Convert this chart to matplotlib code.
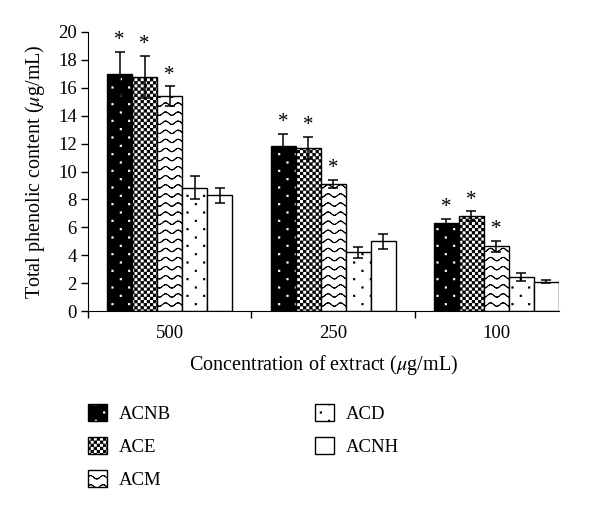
import numpy as np
import matplotlib
matplotlib.use('Agg')
import matplotlib.pyplot as plt
from matplotlib import hatch as mhatch
from matplotlib.path import Path
from matplotlib.patches import Patch

# data
concs = ['500', '250', '100']
extracts = ['ACNB', 'ACE', 'ACM', 'ACD', 'ACNH']
acnb = [17.0, 11.8, 6.3]
acnb_err = [1.6, 0.9, 0.3]
ace = [16.8, 11.7, 6.8]
ace_err = [1.5, 0.8, 0.35]
acm = [15.4, 9.1, 4.65]
acm_err = [0.7, 0.3, 0.4]
acd = [8.85, 4.2, 2.45]
acd_err = [0.85, 0.4, 0.3]
acnh = [8.3, 5.0, 2.1]
acnh_err = [0.55, 0.55, 0.12]
starred = [True, True, True, False, False]


# custom hatches: '*' waves, 'O' fine checker, 'o' sparse staggered dots
class Waves(mhatch.HatchPatternBase):
    def __init__(self, hatch, density):
        self.rows = hatch.count('*') * 11
        self.pts = 97
        self.num_vertices = self.rows * (self.pts - 1) * 2

    def set_vertices_and_codes(self, vertices, codes):
        x = np.linspace(0, 1, self.pts)
        k = 0
        for r in range(self.rows):
            y = (r + 0.5) / self.rows + 0.017 * np.sin(2 * np.pi * 8 * x)
            seg = np.column_stack([x, y])
            n = (self.pts - 1) * 2
            vertices[k:k + n:2] = seg[:-1]
            vertices[k + 1:k + n:2] = seg[1:]
            codes[k:k + n:2] = Path.MOVETO
            codes[k + 1:k + n:2] = Path.LINETO
            k += n


class Checker(mhatch.HatchPatternBase):
    def __init__(self, hatch, density):
        self.n = 32 if 'O' in hatch else 0
        self.num_vertices = (self.n * self.n // 2) * 5

    def set_vertices_and_codes(self, vertices, codes):
        c = 1.0 / self.n
        s = 0.004
        k = 0
        for i in range(self.n):
            for j in range(self.n):
                if (i + j) % 2:
                    continue
                x0, y0 = i * c + s, j * c + s
                x1, y1 = (i + 1) * c - s, (j + 1) * c - s
                vertices[k:k + 5] = [(x0, y0), (x1, y0), (x1, y1), (x0, y1), (x0, y0)]
                codes[k:k + 5] = [Path.MOVETO, Path.LINETO, Path.LINETO,
                                  Path.LINETO, Path.CLOSEPOLY]
                k += 5


class Dots(mhatch.HatchPatternBase):
    def __init__(self, hatch, density):
        self.cols = 6 if 'o' in hatch else 0
        self.rows = 12
        self.num_vertices = self.cols * self.rows * 5

    def set_vertices_and_codes(self, vertices, codes):
        d = 0.006
        k = 0
        for r in range(self.rows):
            for c in range(self.cols):
                x = (c + 0.25 + 0.5 * (r % 2)) / self.cols
                y = (r + 0.5) / self.rows
                vertices[k:k + 5] = [(x - d, y - d), (x + d, y - d), (x + d, y + d),
                                     (x - d, y + d), (x - d, y - d)]
                codes[k:k + 5] = [Path.MOVETO, Path.LINETO, Path.LINETO,
                                  Path.LINETO, Path.CLOSEPOLY]
                k += 5


mhatch._hatch_types[:] = [Waves, Checker, Dots]

plt.rcParams['font.family'] = 'Liberation Serif'
plt.rcParams['mathtext.fontset'] = 'stix'
plt.rcParams['hatch.linewidth'] = 0.7

values = [acnb, ace, acm, acd, acnh]
errors = [acnb_err, ace_err, acm_err, acd_err, acnh_err]
faces = ['black', 'white', 'white', 'white', 'white']
hcols = ['white', 'black', 'black', 'black', 'black']
hatches = ['o', 'O', '*', 'o', None]

fig = plt.figure(figsize=(6, 5.12), dpi=100)
ax = fig.add_axes([88 / 600, 1 - 311 / 512, 471 / 600, 279 / 512])

x = np.arange(len(concs))
w = 0.153
handles = []
for i, name in enumerate(extracts):
    xp = x + (i - 2) * w
    ax.bar(xp, values[i], w, color=faces[i], edgecolor=hcols[i], linewidth=0,
           hatch=hatches[i])
    ax.bar(xp, values[i], w, fill=False, edgecolor='black', linewidth=1)
    ax.errorbar(xp, values[i], yerr=errors[i], fmt='none', ecolor='black',
                elinewidth=1.1, capsize=3.5, capthick=1.1)
    if starred[i]:
        for xx, v, e in zip(xp, values[i], errors[i]):
            ax.annotate('*', (xx, v + e), xytext=(0, 8), textcoords='offset points',
                        ha='center', va='center', fontsize=15)
    handles.append((Patch(facecolor=faces[i], edgecolor=hcols[i], linewidth=0,
                          hatch=hatches[i]),
                    Patch(fill=False, edgecolor='black', linewidth=1)))

ax.set_ylim(0, 20)
ax.set_xlim(-0.5, 2.3825)
ax.set_yticks(np.arange(0, 21, 2))
ax.set_xticks([-0.5, 0.5, 1.5])
ax.set_xticklabels([])
ax.set_xticks(x, minor=True)
ax.set_xticklabels(concs, minor=True)
ax.tick_params(axis='x', which='minor', length=0, pad=10, labelsize=13.5)
ax.tick_params(axis='both', which='major', direction='out', length=5, width=1,
               labelsize=13.5)
ax.tick_params(axis='y', pad=3)
for s in ['top', 'right']:
    ax.spines[s].set_visible(False)

ax.set_xlabel('Concentration of extract ($\\mu$g/mL)', fontsize=14.5, labelpad=8)
ax.set_ylabel('Total phenolic content ($\\mu$g/mL)', fontsize=14.5)
ax.yaxis.set_label_coords(-0.087, 0.5)

fig.legend(handles, extracts, ncol=2, loc='upper left',
           bbox_to_anchor=(88 / 600, 1 - 404 / 512), frameon=False,
           fontsize=13.5, handlelength=1.0, handleheight=1.0,
           handletextpad=0.64, labelspacing=0.76, columnspacing=7.7,
           borderpad=0, borderaxespad=0)

fig.savefig('out.png', dpi=100)
